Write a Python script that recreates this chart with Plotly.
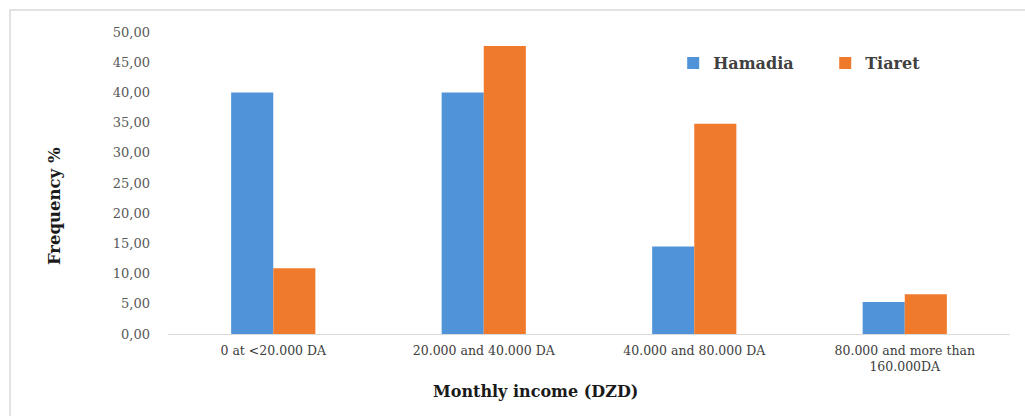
import plotly.graph_objects as go

# Monthly income classes and frequency (%) for each town
categories = ["0 at <20.000 DA", "20.000 and 40.000 DA", "40.000 and 80.000 DA",
              "80.000 and more than<br>160.000DA"]
hamadia = [40.0, 40.0, 14.5, 5.3]
tiaret = [10.9, 47.7, 34.8, 6.6]
y_ticks = [0, 5, 10, 15, 20, 25, 30, 35, 40, 45, 50]
y_tick_text = ["0,00", "5,00", "10,00", "15,00", "20,00", "25,00",
               "30,00", "35,00", "40,00", "45,00", "50,00"]

SERIF = "DejaVu Serif, Liberation Serif, serif"

fig = go.Figure()
fig.add_trace(go.Bar(name="Hamadia", x=categories, y=hamadia,
                     marker=dict(color="#5093D8", line=dict(width=0))))
fig.add_trace(go.Bar(name="Tiaret", x=categories, y=tiaret,
                     marker=dict(color="#EF7A2C", line=dict(width=0))))

fig.update_layout(
    width=1025, height=416,
    margin=dict(l=168, r=15, t=32, b=82),
    paper_bgcolor="white", plot_bgcolor="white",
    barmode="group", bargap=0.60, bargroupgap=0,
    font=dict(family=SERIF, size=13, color="#404040"),
    showlegend=True,
    legend=dict(orientation="h", x=0.60, y=0.897, xanchor="left", yanchor="middle",
                font=dict(family=SERIF, size=16, color="#404040", weight="bold"),
                bgcolor="rgba(0,0,0,0)", entrywidth=107, traceorder="normal"),
    xaxis=dict(showgrid=False, showline=True, linecolor="#D9D9D9", linewidth=1,
               ticks="", ticklabelstandoff=5,
               tickfont=dict(family=SERIF, size=12.5, color="#404040")),
    yaxis=dict(range=[0, 50], tickvals=y_ticks, ticktext=y_tick_text,
               showgrid=False, showline=False, zeroline=False, ticks="",
               ticklabelstandoff=17,
               tickfont=dict(family=SERIF, size=13, color="#595959")),
    annotations=[
        dict(text="<b>Monthly income (DZD)</b>", xref="paper", yref="paper",
             x=0.437, y=-0.192, xanchor="center", yanchor="middle", showarrow=False,
             font=dict(family=SERIF, size=16, color="#1a1a1a")),
        dict(text="<b>Frequency %</b>", xref="paper", yref="paper", textangle=-90,
             x=-0.134, y=0.424, xanchor="center", yanchor="middle", showarrow=False,
             font=dict(family=SERIF, size=16.5, color="#1a1a1a")),
    ],
    shapes=[dict(type="rect", xref="paper", yref="paper",
                 x0=-0.1876, x1=1.05, y0=-0.35, y1=1.0728,
                 line=dict(color="#D9D9D9", width=1.5), fillcolor="rgba(0,0,0,0)",
                 layer="below")],
)

fig.write_html("out.html")
